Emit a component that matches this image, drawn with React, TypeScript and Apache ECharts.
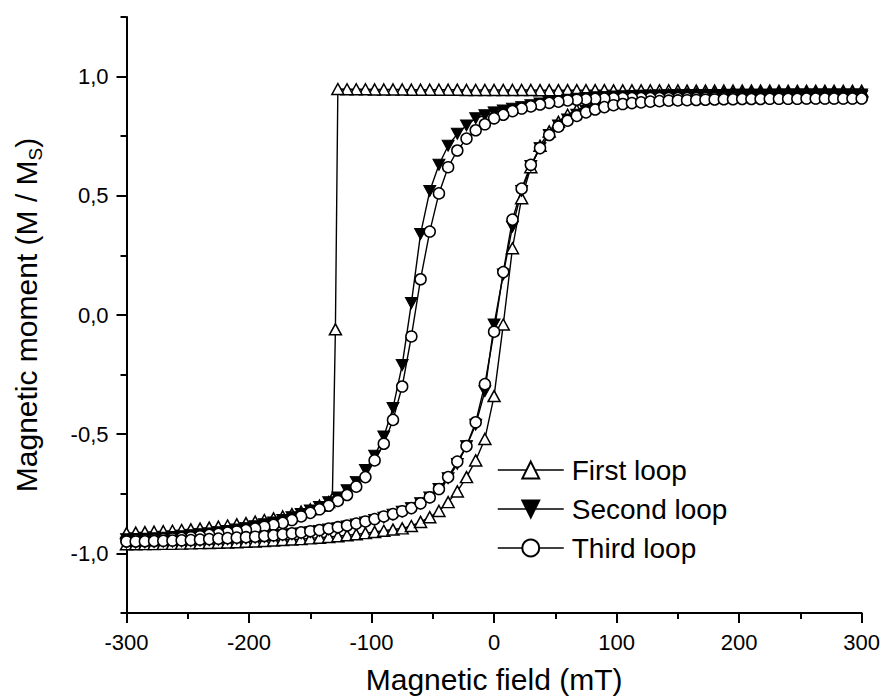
import React, { useEffect, useRef } from 'react';
import * as echarts from 'echarts';

// Field grid (mT) shared by the second/third loops and the ascending branch of the first loop
const fieldGrid = [
  -300, -292.5, -285, -277.5, -270, -262.5, -255, -247.5, -240, -232.5,
  -225, -217.5, -210, -202.5, -195, -187.5, -180, -172.5, -165, -157.5,
  -150, -142.5, -135, -127.5, -120, -112.5, -105, -97.5, -90, -82.5,
  -75, -67.5, -60, -52.5, -45, -37.5, -30, -22.5, -15, -7.5,
  0, 7.5, 15, 22.5, 30, 37.5, 45, 52.5, 60, 67.5,
  75, 82.5, 90, 97.5, 105, 112.5, 120, 127.5, 135, 142.5,
  150, 157.5, 165, 172.5, 180, 187.5, 195, 202.5, 210, 217.5,
  225, 232.5, 240, 247.5, 255, 262.5, 270, 277.5, 285, 292.5,
  300,
];

// First loop, descending sweep (+300 -> -300), with the abrupt switching near -130 mT
const firstDownField = [
  300, 292.5, 285, 277.5, 270, 262.5, 255, 247.5, 240, 232.5,
  225, 217.5, 210, 202.5, 195, 187.5, 180, 172.5, 165, 157.5,
  150, 142.5, 135, 127.5, 120, 112.5, 105, 97.5, 90, 82.5,
  75, 67.5, 60, 52.5, 45, 37.5, 30, 22.5, 15, 7.5,
  0, -7.5, -15, -22.5, -30, -37.5, -45, -52.5, -60, -67.5,
  -75, -82.5, -90, -97.5, -105, -112.5, -120, -127.5, -129.5, -132,
  -135, -142.5, -150, -157.5, -165, -172.5, -180, -187.5, -195, -202.5,
  -210, -217.5, -225, -232.5, -240, -247.5, -255, -262.5, -270, -277.5,
  -285, -292.5, -300,
];
const firstDownMoment = [
  0.940, 0.940, 0.940, 0.940, 0.940, 0.940, 0.940, 0.940, 0.940, 0.940,
  0.941, 0.941, 0.941, 0.941, 0.941, 0.941, 0.941, 0.941, 0.941, 0.941,
  0.942, 0.942, 0.942, 0.942, 0.942, 0.942, 0.942, 0.942, 0.943, 0.943,
  0.943, 0.943, 0.943, 0.943, 0.943, 0.943, 0.944, 0.944, 0.944, 0.944,
  0.944, 0.944, 0.944, 0.944, 0.945, 0.945, 0.945, 0.945, 0.945, 0.945,
  0.946, 0.946, 0.946, 0.946, 0.947, 0.947, 0.947, 0.948, -0.060, -0.770,
  -0.785, -0.800, -0.815, -0.825, -0.835, -0.845, -0.853, -0.860, -0.867, -0.873,
  -0.878, -0.883, -0.888, -0.892, -0.896, -0.899, -0.902, -0.905, -0.907, -0.909,
  -0.911, -0.913, -0.915,
];
// First loop, ascending sweep, values at fieldGrid
const firstUpMoment = [
  -0.962, -0.962, -0.961, -0.961, -0.960, -0.960, -0.959, -0.958, -0.957, -0.956,
  -0.955, -0.954, -0.953, -0.951, -0.950, -0.948, -0.946, -0.944, -0.942, -0.940,
  -0.937, -0.934, -0.931, -0.928, -0.924, -0.920, -0.915, -0.910, -0.905, -0.900,
  -0.895, -0.885, -0.868, -0.848, -0.822, -0.785, -0.740, -0.680, -0.610, -0.520,
  -0.340, -0.040, 0.280, 0.490, 0.620, 0.710, 0.770, 0.810, 0.840, 0.860,
  0.875, 0.887, 0.896, 0.903, 0.909, 0.913, 0.917, 0.920, 0.922, 0.924,
  0.926, 0.927, 0.928, 0.928, 0.929, 0.930, 0.930, 0.931, 0.931, 0.932,
  0.932, 0.932, 0.933, 0.933, 0.933, 0.934, 0.934, 0.934, 0.935, 0.935,
  0.935,
];

// Second loop, values at fieldGrid
const secondDownMoment = [
  -0.941, -0.940, -0.938, -0.936, -0.934, -0.931, -0.928, -0.924, -0.920, -0.916,
  -0.911, -0.906, -0.900, -0.893, -0.886, -0.878, -0.870, -0.860, -0.848, -0.835,
  -0.820, -0.805, -0.785, -0.765, -0.735, -0.700, -0.650, -0.590, -0.510, -0.390,
  -0.210, 0.050, 0.340, 0.520, 0.630, 0.710, 0.760, 0.795, 0.825, 0.838,
  0.850, 0.858, 0.865, 0.872, 0.880, 0.887, 0.893, 0.898, 0.903, 0.907,
  0.910, 0.913, 0.915, 0.917, 0.918, 0.919, 0.920, 0.921, 0.921, 0.922,
  0.922, 0.922, 0.923, 0.923, 0.923, 0.923, 0.924, 0.924, 0.924, 0.924,
  0.924, 0.925, 0.925, 0.925, 0.925, 0.925, 0.925, 0.925, 0.925, 0.925,
  0.925,
];
const secondUpMoment = [
  -0.955, -0.955, -0.954, -0.953, -0.952, -0.951, -0.950, -0.949, -0.947, -0.945,
  -0.943, -0.941, -0.939, -0.937, -0.934, -0.931, -0.928, -0.924, -0.920, -0.916,
  -0.911, -0.906, -0.900, -0.894, -0.887, -0.879, -0.870, -0.860, -0.850, -0.838,
  -0.825, -0.810, -0.790, -0.765, -0.730, -0.685, -0.625, -0.550, -0.460, -0.320,
  -0.040, 0.170, 0.370, 0.520, 0.625, 0.700, 0.755, 0.795, 0.820, 0.840,
  0.857, 0.870, 0.880, 0.888, 0.894, 0.898, 0.902, 0.905, 0.907, 0.909,
  0.910, 0.911, 0.912, 0.912, 0.913, 0.913, 0.914, 0.914, 0.915, 0.915,
  0.915, 0.916, 0.916, 0.916, 0.917, 0.917, 0.917, 0.917, 0.918, 0.918,
  0.918,
];

// Third loop, values at fieldGrid
const thirdDownMoment = [
  -0.946, -0.945, -0.944, -0.942, -0.940, -0.938, -0.935, -0.932, -0.928, -0.922,
  -0.918, -0.913, -0.908, -0.902, -0.896, -0.888, -0.880, -0.872, -0.860, -0.845,
  -0.830, -0.815, -0.800, -0.780, -0.755, -0.720, -0.680, -0.610, -0.540, -0.440,
  -0.300, -0.090, 0.150, 0.350, 0.510, 0.620, 0.690, 0.740, 0.775, 0.800,
  0.825, 0.840, 0.855, 0.866, 0.875, 0.883, 0.890, 0.895, 0.900, 0.903,
  0.905, 0.907, 0.908, 0.909, 0.910, 0.910, 0.910, 0.910, 0.910, 0.910,
  0.910, 0.910, 0.910, 0.910, 0.910, 0.910, 0.910, 0.910, 0.910, 0.910,
  0.910, 0.910, 0.910, 0.910, 0.910, 0.910, 0.910, 0.910, 0.910, 0.910,
  0.910,
];
const thirdUpMoment = [
  -0.950, -0.950, -0.949, -0.948, -0.947, -0.946, -0.945, -0.944, -0.942, -0.940,
  -0.938, -0.936, -0.934, -0.932, -0.930, -0.927, -0.924, -0.920, -0.916, -0.912,
  -0.907, -0.902, -0.896, -0.890, -0.883, -0.875, -0.866, -0.856, -0.845, -0.835,
  -0.823, -0.810, -0.790, -0.765, -0.730, -0.680, -0.615, -0.550, -0.450, -0.290,
  -0.070, 0.180, 0.400, 0.530, 0.630, 0.700, 0.755, 0.790, 0.815, 0.835,
  0.850, 0.862, 0.872, 0.880, 0.885, 0.889, 0.892, 0.895, 0.897, 0.899,
  0.900, 0.901, 0.902, 0.903, 0.904, 0.905, 0.905, 0.906, 0.906, 0.906,
  0.907, 0.907, 0.907, 0.907, 0.908, 0.908, 0.908, 0.908, 0.908, 0.908,
  0.908,
];

const seriesNames = ['First loop', 'Second loop', 'Third loop'];
const xMajorTicks = [-300, -200, -100, 0, 100, 200, 300];
const xMinorTicks = [-250, -150, -50, 50, 150, 250];
const yMajorTicks = [-1, -0.5, 0, 0.5, 1];
const yMinorTicks = [-1.25, -0.75, -0.25, 0.25, 0.75, 1.25];

const FONT = '"Liberation Sans", Arial, Helvetica, sans-serif';
const BLACK = '#000000';

function pairs(field: number[], moment: number[]) {
  return field.map((h, i) => [h, moment[i]]);
}

function loop(downField: number[], downMoment: number[], upField: number[], upMoment: number[]) {
  return [...pairs(downField, downMoment), ...pairs(upField, upMoment)];
}

export default function App() {
  const ref = useRef<HTMLDivElement>(null);

  useEffect(() => {
    if (!ref.current) return;
    const chart = echarts.init(ref.current, null, { renderer: 'svg' });

    const reversedGrid = [...fieldGrid].reverse();
    const firstData = loop(firstDownField, firstDownMoment, fieldGrid, firstUpMoment);
    const secondData = loop(reversedGrid, [...secondDownMoment].reverse(), fieldGrid, secondUpMoment);
    const thirdData = loop(reversedGrid, [...thirdDownMoment].reverse(), fieldGrid, thirdUpMoment);

    const tickLine = { color: BLACK, width: 2 };

    chart.setOption({
      animation: false,
      backgroundColor: '#ffffff',
      grid: { left: 126.5, right: 20, top: 17, bottom: 81, containLabel: false },
      legend: {
        orient: 'vertical',
        left: 497,
        top: 456,
        padding: 0,
        itemWidth: 66,
        itemHeight: 21,
        itemGap: 11,
        data: seriesNames,
        lineStyle: { width: 1.5 },
        textStyle: { fontSize: 28, color: BLACK, fontFamily: FONT, padding: [0, 0, 0, 3] },
      },
      xAxis: [
        {
          type: 'value',
          min: -300,
          max: 300,
          position: 'bottom',
          axisLine: { show: true, onZero: false, lineStyle: tickLine },
          axisTick: { show: true, inside: false, length: 10, customValues: xMajorTicks, lineStyle: tickLine },
          axisLabel: { customValues: xMajorTicks, margin: 18, fontSize: 22, color: BLACK, fontFamily: FONT },
          splitLine: { show: false },
          name: 'Magnetic field (mT)',
          nameLocation: 'middle',
          nameGap: 51,
          nameTextStyle: { fontSize: 30, color: BLACK, fontFamily: FONT },
        },
        {
          type: 'value',
          min: -300,
          max: 300,
          position: 'bottom',
          axisLine: { show: false, onZero: false },
          axisTick: { show: true, inside: false, length: 6, customValues: xMinorTicks, lineStyle: tickLine },
          axisLabel: { show: false },
          splitLine: { show: false },
        },
      ],
      yAxis: [
        {
          type: 'value',
          min: -1.25,
          max: 1.25,
          position: 'left',
          axisLine: { show: true, onZero: false, lineStyle: tickLine },
          axisTick: { show: true, inside: false, length: 10, customValues: yMajorTicks, lineStyle: tickLine },
          axisLabel: {
            customValues: yMajorTicks,
            margin: 18,
            fontSize: 22,
            color: BLACK,
            fontFamily: FONT,
            formatter: (v: number) => v.toFixed(1).replace('.', ','),
          },
          splitLine: { show: false },
          name: '{a|Magnetic moment (M / M}{b|S}{a|)}',
          nameLocation: 'middle',
          nameGap: 85,
          nameTextStyle: {
            fontSize: 30,
            color: BLACK,
            fontFamily: FONT,
            rich: {
              a: { fontSize: 30, color: BLACK, fontFamily: FONT, lineHeight: 30, verticalAlign: 'top' },
              b: { fontSize: 19, color: BLACK, fontFamily: FONT, lineHeight: 19, verticalAlign: 'top', padding: [14, 0, 0, 0] },
            },
          },
        },
        {
          type: 'value',
          min: -1.25,
          max: 1.25,
          position: 'left',
          axisLine: { show: false, onZero: false },
          axisTick: { show: true, inside: false, length: 6, customValues: yMinorTicks, lineStyle: tickLine },
          axisLabel: { show: false },
          splitLine: { show: false },
        },
      ],
      series: [
        {
          name: seriesNames[0],
          type: 'line',
          data: firstData,
          symbol: 'triangle',
          symbolSize: [12, 11],
          lineStyle: { color: BLACK, width: 1.4 },
          itemStyle: { color: '#ffffff', borderColor: BLACK, borderWidth: 1.5 },
          emphasis: { disabled: true },
        },
        {
          name: seriesNames[1],
          type: 'line',
          data: secondData,
          symbol: 'triangle',
          symbolRotate: 180,
          symbolSize: [12, 11],
          lineStyle: { color: BLACK, width: 1.4 },
          itemStyle: { color: BLACK, borderColor: BLACK, borderWidth: 1 },
          emphasis: { disabled: true },
        },
        {
          name: seriesNames[2],
          type: 'line',
          data: thirdData,
          symbol: 'circle',
          symbolSize: 11,
          lineStyle: { color: BLACK, width: 1.4 },
          itemStyle: { color: '#ffffff', borderColor: BLACK, borderWidth: 1.5 },
          emphasis: { disabled: true },
        },
      ],
    });

    return () => chart.dispose();
  }, []);

  return (
    <div
      ref={ref}
      style={{ position: 'fixed', left: 0, top: 0, width: 883, height: 699, background: '#fff' }}
    />
  );
}
